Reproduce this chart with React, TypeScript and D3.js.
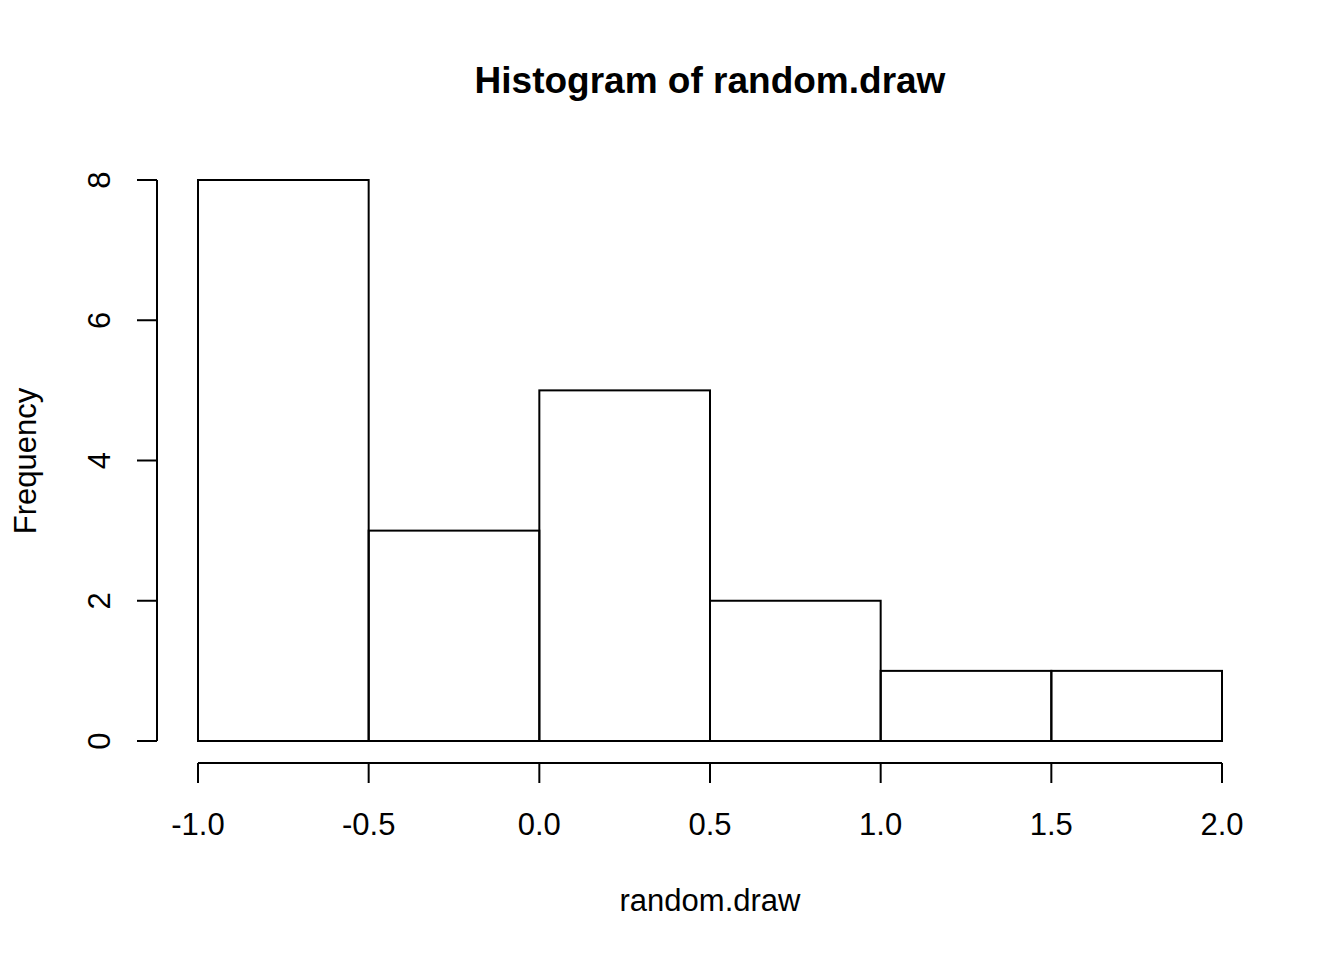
import * as d3 from "d3";

const binEdges = [-1.0, -0.5, 0.0, 0.5, 1.0, 1.5, 2.0];
const counts = [8, 3, 5, 2, 1, 1];
const xTicks = [-1.0, -0.5, 0.0, 0.5, 1.0, 1.5, 2.0];
const yTicks = [0, 2, 4, 6, 8];

export default function App() {
  const width = 1344;
  const height = 960;
  const x = d3.scaleLinear().domain([-1, 2]).range([198, 1222]);
  const y = d3.scaleLinear().domain([0, 8]).range([741, 180]);
  const font = "'Liberation Sans', Arial, sans-serif";
  const axisY = 763;
  const axisX = 157;

  return (
    <svg
      width={width}
      height={height}
      style={{ position: "absolute", left: 0, top: 0, background: "#fff" }}
      fontFamily={font}
    >
      <text x={710} y={93} textAnchor="middle" fontSize={37} fontWeight="bold">
        Histogram of random.draw
      </text>
      {counts.map((c, i) => (
        <rect
          key={i}
          x={x(binEdges[i])}
          y={y(c)}
          width={x(binEdges[i + 1]) - x(binEdges[i])}
          height={y(0) - y(c)}
          fill="none"
          stroke="#000"
          strokeWidth={2}
        />
      ))}
      <line x1={x(-1)} x2={x(2)} y1={axisY} y2={axisY} stroke="#000" strokeWidth={2} />
      {xTicks.map((t) => (
        <g key={t}>
          <line x1={x(t)} x2={x(t)} y1={axisY} y2={axisY + 20} stroke="#000" strokeWidth={2} />
          <text x={x(t)} y={835} textAnchor="middle" fontSize={31}>
            {t.toFixed(1)}
          </text>
        </g>
      ))}
      <line x1={axisX} x2={axisX} y1={y(0)} y2={y(8)} stroke="#000" strokeWidth={2} />
      {yTicks.map((t) => (
        <g key={t}>
          <line x1={axisX - 20} x2={axisX} y1={y(t)} y2={y(t)} stroke="#000" strokeWidth={2} />
          <text
            transform={`translate(110,${y(t)}) rotate(-90)`}
            textAnchor="middle"
            fontSize={31}
          >
            {t}
          </text>
        </g>
      ))}
      <text x={710} y={911} textAnchor="middle" fontSize={31}>
        random.draw
      </text>
      <text transform={`translate(36,461) rotate(-90)`} textAnchor="middle" fontSize={31}>
        Frequency
      </text>
    </svg>
  );
}
